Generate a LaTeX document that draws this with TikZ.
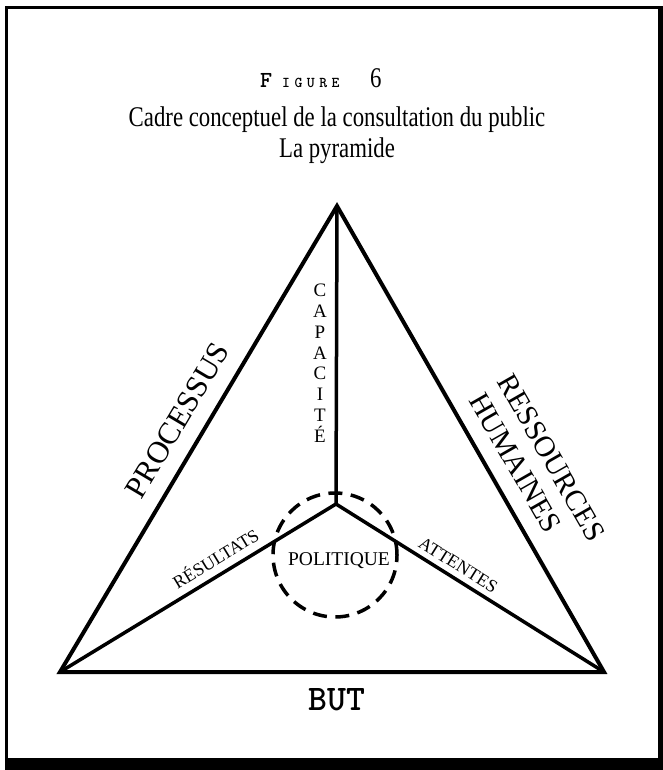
\documentclass[tikz,border=0pt]{standalone}
\usepackage{fontspec}
\setmainfont{Liberation Serif}
\newfontfamily\condfont[FakeStretch=0.8]{Liberation Serif}
\newfontfamily\slabbold[Extension=.otf]{lmmonolt10-bold}
\newfontfamily\slabspaced[Extension=.otf, LetterSpace=30]{lmmonolt10-bold}
\begin{document}
\begin{tikzpicture}[x=1pt,y=-1pt,
  edge/.style={line width=4pt, line join=miter},
  spoke/.style={line width=3.5pt},
  lab/.style={inner sep=0pt, sloped},
  titlefont/.style={font=\condfont\fontsize{28.5}{28.5}\selectfont},
  bigfont/.style={font=\fontsize{29.5}{29.5}\selectfont},
  smallfont/.style={font=\fontsize{18}{18}\selectfont}]
% page and frame with heavier right and bottom rules
\useasboundingbox (0,0) rectangle (663,770);
\fill[white] (0,0) rectangle (663,770);
\fill[black] (5,6.5) rectangle (663,770);
\fill[white] (8,9.5) rectangle (658,757.5);

% title
\node[font=\slabbold\fontsize{23}{23}\selectfont, anchor=base west, inner sep=0pt] (figF) at (260,88) {F};
\node[font=\slabspaced\fontsize{15}{15}\selectfont, anchor=base west, inner sep=0pt] (figrest) at (282,88) {IGURE};
\node[titlefont, anchor=base west, inner sep=0pt] (fignum) at (370,88) {6};
\node[titlefont, anchor=base, inner sep=0pt] (cadre) at (337,127) {Cadre conceptuel de la consultation du public};
\node[titlefont, anchor=base, inner sep=0pt] (pyr) at (337,158) {La pyramide};

% pyramid corners and centre
\coordinate (A) at (337,206);
\coordinate (L) at (60,672);
\coordinate (R) at (604,672);
\coordinate (O) at (336,504);

% dashed policy circle
\node[circle, draw, line width=3.5pt, dash pattern=on 14pt off 8.5pt, minimum size=124pt, inner sep=0pt] (circ) at (335,555) {};
\node[font=\fontsize{19.5}{19.5}\selectfont, anchor=base, inner sep=0pt] (pol) at (339,565) {POLITIQUE};

% edges and spokes
\draw[edge] (A) -- (L) -- (R) -- cycle;
\draw[spoke] (A) -- (O);
\draw[spoke] (O) -- (L);
\draw[spoke] (O) -- (R);

% labels along the edges
\path (L) -- (A) node[lab, font=\fontsize{31}{31}\selectfont, pos=0.51, above=17pt] (proc) {PROCESSUS};
\path (A) -- (R)
  node[lab, bigfont, pos=0.58, above=17pt] (hum) {HUMAINES}
  node[lab, bigfont, pos=0.605, above=51pt] (res) {RESSOURCES};
\path (L) -- (O) node[lab, smallfont, pos=0.594, above=9pt] (resu) {RÉSULTATS};
\path (O) -- (R) node[lab, smallfont, pos=0.43, above=7pt] (att) {ATTENTES};

% stacked letters beside the vertical spoke
\node[font=\fontsize{19}{20.8}\selectfont, align=center, anchor=north, inner sep=0pt] (cap) at (320,284) {C\\A\\P\\A\\C\\I\\T\\É};

% base label
\node[font=\slabbold\fontsize{36}{36}\selectfont, anchor=base, inner sep=0pt] (but) at (337,710) {BUT};
\end{tikzpicture}
\end{document}
